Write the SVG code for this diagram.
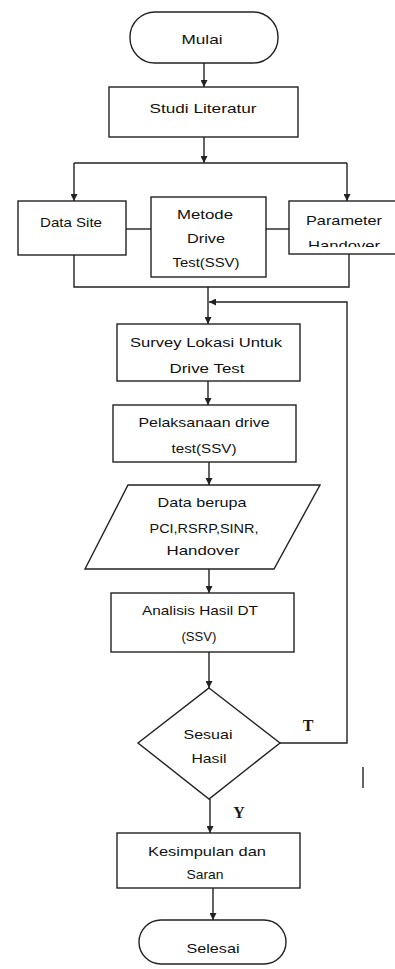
<svg xmlns="http://www.w3.org/2000/svg" width="395" height="969" viewBox="0 0 395 969">
  <style>
    .shape { fill: #ffffff; stroke: #222222; stroke-width: 1.4; }
    .wire { fill: none; stroke: #222222; stroke-width: 1.4; }
    .lbl { font-family: "Liberation Sans", Arial, sans-serif; font-size: 13.5px; fill: #111111; text-anchor: middle; }
    .tag { font-family: "Liberation Serif", "Times New Roman", serif; font-size: 16px; font-weight: bold; fill: #1a1a1a; text-anchor: middle; }
  </style>
  <defs>
    <marker id="arrow" viewBox="0 0 10 10" refX="10" refY="5" markerWidth="7" markerHeight="7" markerUnits="userSpaceOnUse" orient="auto">
      <path d="M0,0 L10,5 L0,10 Z" fill="#222222"/>
    </marker>
    <clipPath id="paramClip">
      <rect x="289" y="201" width="106" height="46"/>
    </clipPath>
  </defs>
  <rect width="395" height="969" fill="#ffffff"/>

  <g id="connectors">
    <line class="wire" x1="204" y1="63" x2="204" y2="87" marker-end="url(#arrow)"/>
    <line class="wire" x1="204" y1="137" x2="204" y2="163" marker-end="url(#arrow)"/>
    <polyline class="wire" points="74,163 347,163"/>
    <line class="wire" x1="74" y1="163" x2="74" y2="201" marker-end="url(#arrow)"/>
    <line class="wire" x1="347" y1="163" x2="347" y2="201" marker-end="url(#arrow)"/>
    <line class="wire" x1="126" y1="229" x2="151" y2="229"/>
    <line class="wire" x1="266" y1="229" x2="289" y2="229"/>
    <polyline class="wire" points="74,255 74,287 349,287 349,254"/>
    <line class="wire" x1="208" y1="287" x2="208" y2="324" marker-end="url(#arrow)"/>
    <polyline class="wire" points="280,743 347,743 347,302 209,302" marker-end="url(#arrow)"/>
    <line class="wire" x1="208" y1="381" x2="208" y2="405" marker-end="url(#arrow)"/>
    <line class="wire" x1="209" y1="462" x2="209" y2="485" marker-end="url(#arrow)"/>
    <line class="wire" x1="209" y1="569" x2="209" y2="593" marker-end="url(#arrow)"/>
    <line class="wire" x1="209" y1="652" x2="209" y2="688" marker-end="url(#arrow)"/>
    <line class="wire" x1="210" y1="799" x2="210" y2="833" marker-end="url(#arrow)"/>
    <line class="wire" x1="213" y1="888" x2="213" y2="920" marker-end="url(#arrow)"/>
    <text class="tag" x="308" y="731">T</text>
    <text class="tag" x="239" y="818">Y</text>
    <line class="wire" x1="363" y1="767" x2="363" y2="788" stroke-width="1.6"/>
  </g>

  <g id="mulai">
    <rect class="shape" x="130" y="12" width="148" height="51" rx="25" ry="25"/>
    <text class="lbl" x="202" y="44" textLength="41" lengthAdjust="spacingAndGlyphs">Mulai</text>
  </g>

  <g id="studi-literatur">
    <rect class="shape" x="109" y="87" width="189" height="50"/>
    <text class="lbl" x="203" y="113" textLength="107" lengthAdjust="spacingAndGlyphs">Studi Literatur</text>
  </g>

  <g id="data-site">
    <rect class="shape" x="18" y="201" width="108" height="54"/>
    <text class="lbl" x="71" y="227" textLength="62" lengthAdjust="spacingAndGlyphs">Data Site</text>
  </g>

  <g id="metode-drive-test">
    <rect class="shape" x="151" y="197" width="115" height="80"/>
    <text class="lbl" x="205" y="219" textLength="56" lengthAdjust="spacingAndGlyphs">Metode</text>
    <text class="lbl" x="206" y="243" textLength="38" lengthAdjust="spacingAndGlyphs">Drive</text>
    <text class="lbl" x="206" y="267" textLength="67" lengthAdjust="spacingAndGlyphs">Test(SSV)</text>
  </g>

  <g id="parameter-handover">
    <rect class="shape" x="289" y="201" width="120" height="53"/>
    <text class="lbl" x="344" y="225" textLength="76" lengthAdjust="spacingAndGlyphs">Parameter</text>
    <text class="lbl" x="344" y="250" textLength="72" lengthAdjust="spacingAndGlyphs" clip-path="url(#paramClip)">Handover</text>
  </g>

  <g id="survey-lokasi">
    <rect class="shape" x="117" y="324" width="183" height="57"/>
    <text class="lbl" x="206" y="347" textLength="152" lengthAdjust="spacingAndGlyphs">Survey Lokasi Untuk</text>
    <text class="lbl" x="207" y="373" textLength="75" lengthAdjust="spacingAndGlyphs">Drive Test</text>
  </g>

  <g id="pelaksanaan-drive-test">
    <rect class="shape" x="113" y="405" width="183" height="57"/>
    <text class="lbl" x="204" y="427" textLength="131" lengthAdjust="spacingAndGlyphs">Pelaksanaan drive</text>
    <text class="lbl" x="204" y="453" textLength="65" lengthAdjust="spacingAndGlyphs">test(SSV)</text>
  </g>

  <g id="data-berupa">
    <polygon class="shape" points="128,485 320,485 274,569 85,569"/>
    <text class="lbl" x="202" y="507" textLength="89" lengthAdjust="spacingAndGlyphs">Data berupa</text>
    <text class="lbl" x="204" y="533" textLength="109" lengthAdjust="spacingAndGlyphs">PCI,RSRP,SINR,</text>
    <text class="lbl" x="203" y="555" textLength="73" lengthAdjust="spacingAndGlyphs">Handover</text>
  </g>

  <g id="analisis-hasil">
    <rect class="shape" x="111" y="593" width="183" height="59"/>
    <text class="lbl" x="200" y="615" textLength="116" lengthAdjust="spacingAndGlyphs">Analisis Hasil DT</text>
    <text class="lbl" x="199" y="641" textLength="35" lengthAdjust="spacingAndGlyphs">(SSV)</text>
  </g>

  <g id="sesuai-hasil">
    <polygon class="shape" points="209,688 280,743 209,799 138,743"/>
    <text class="lbl" x="208" y="739" textLength="49" lengthAdjust="spacingAndGlyphs">Sesuai</text>
    <text class="lbl" x="209" y="763" textLength="35" lengthAdjust="spacingAndGlyphs">Hasil</text>
  </g>

  <g id="kesimpulan-saran">
    <rect class="shape" x="117" y="833" width="183" height="55"/>
    <text class="lbl" x="207" y="856" textLength="118" lengthAdjust="spacingAndGlyphs">Kesimpulan dan</text>
    <text class="lbl" x="205" y="879" textLength="37" lengthAdjust="spacingAndGlyphs">Saran</text>
  </g>

  <g id="selesai">
    <rect class="shape" x="139" y="920" width="147" height="44" rx="22" ry="22"/>
    <text class="lbl" x="213" y="953" textLength="53" lengthAdjust="spacingAndGlyphs">Selesai</text>
  </g>
</svg>
